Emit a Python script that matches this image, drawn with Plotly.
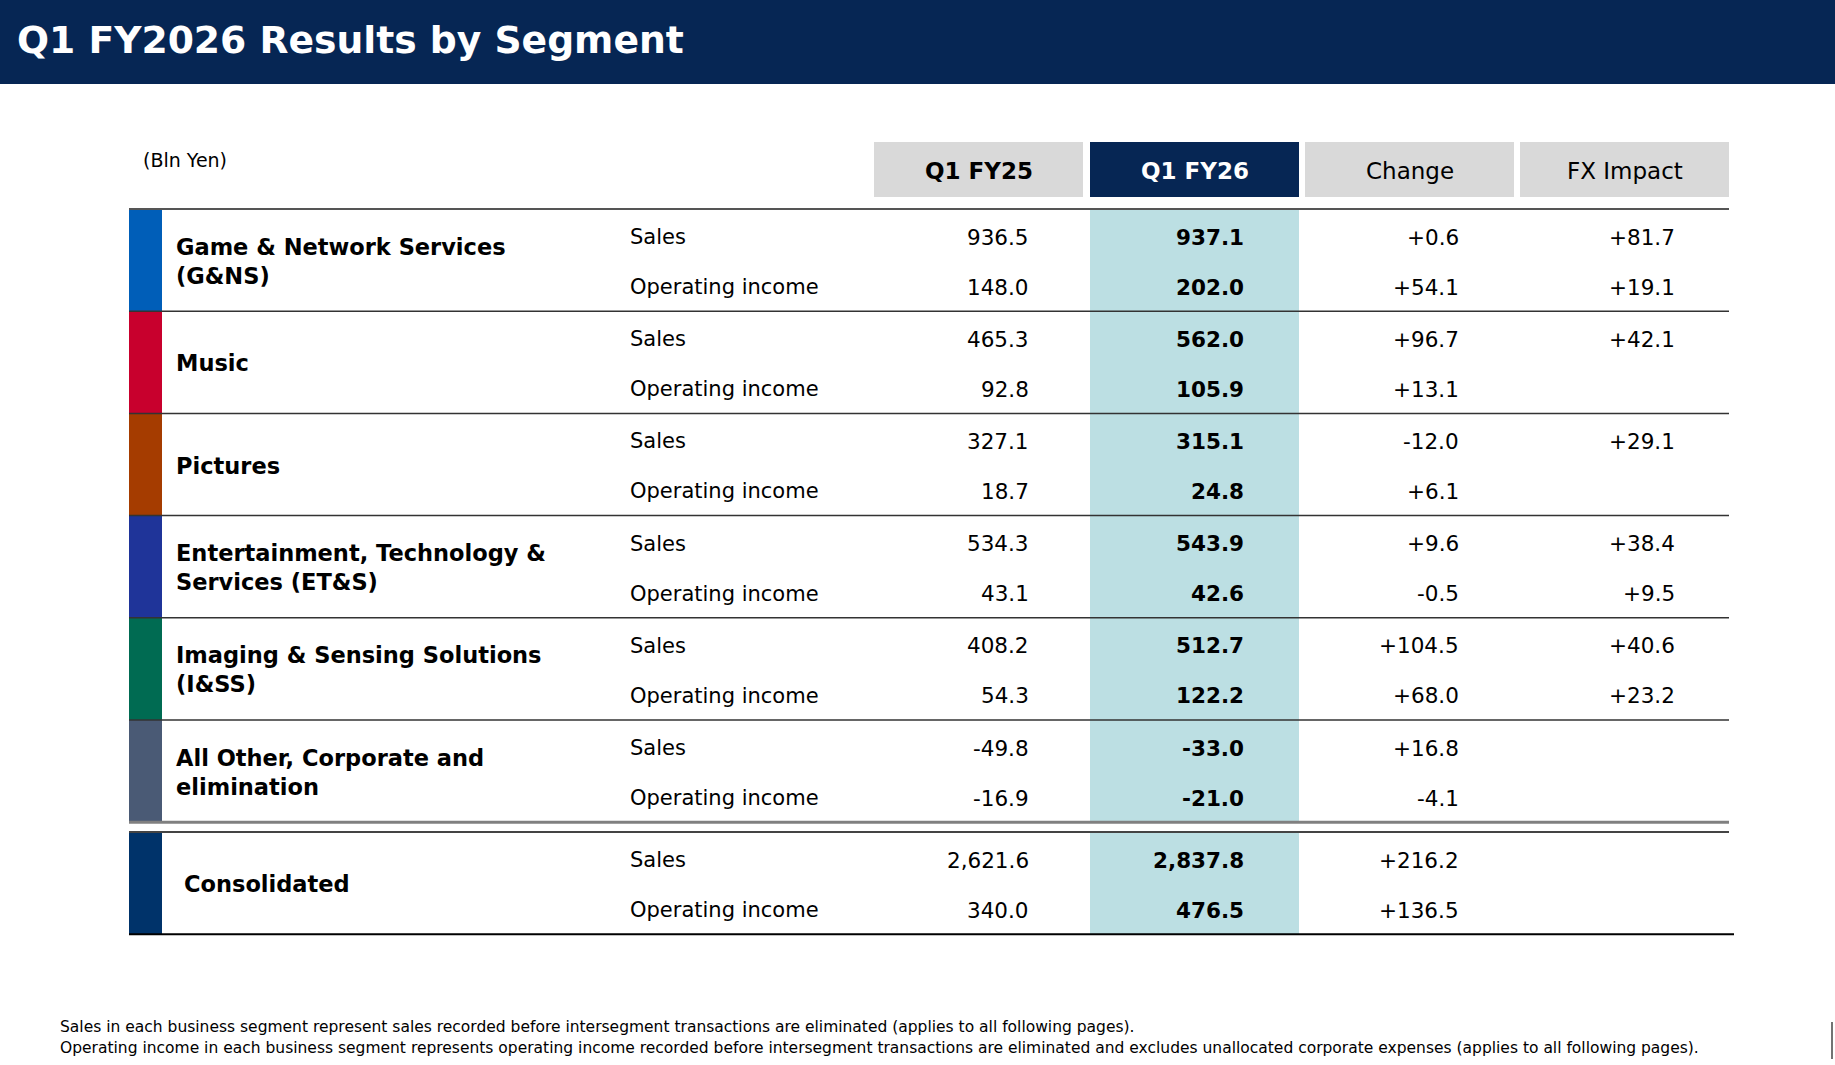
import plotly.graph_objects as go

# data (Bln Yen)
segments = ["Game & Network Services<br>(G&NS)", "Music", "Pictures",
            "Entertainment, Technology &<br>Services (ET&S)",
            "Imaging & Sensing Solutions<br>(I&SS)",
            "All Other, Corporate and<br>elimination", "Consolidated"]
seg_colors = ["#005EB8", "#C8002D", "#A53C00", "#1F3499", "#006B52", "#4A5A75", "#00336A"]
metrics = ["Sales", "Operating income"]
columns = ["Q1 FY25", "Q1 FY26", "Change", "FX Impact"]

fy25_sales = [936.5, 465.3, 327.1, 534.3, 408.2, -49.8, 2621.6]
fy25_oi = [148.0, 92.8, 18.7, 43.1, 54.3, -16.9, 340.0]
fy26_sales = [937.1, 562.0, 315.1, 543.9, 512.7, -33.0, 2837.8]
fy26_oi = [202.0, 105.9, 24.8, 42.6, 122.2, -21.0, 476.5]
chg_sales = [0.6, 96.7, -12.0, 9.6, 104.5, 16.8, 216.2]
chg_oi = [54.1, 13.1, 6.1, -0.5, 68.0, -4.1, 136.5]
fx_sales = [81.7, 42.1, 29.1, 38.4, 40.6, None, None]
fx_oi = [19.1, None, None, 9.5, 23.2, None, None]

notes = [
    "Sales in each business segment represent sales recorded before intersegment transactions are eliminated (applies to all following pages).",
    "Operating income in each business segment represents operating income recorded before intersegment transactions are eliminated and excludes unallocated corporate expenses (applies to all following pages).",
]

W, H = 1835, 1065
FONT = "DejaVu Sans"
NAVY = "#062654"
GRAY = "#D9D9D9"
BLUE_COL = "#BCDFE3"

# layout geometry (pixels)
left, right = 129, 1729
bar_w = 33
top0 = 209
blk_h = 102.2
cons_top = 832
col_left = [874, 1090, 1305, 1520]
col_w = 209
val_right = [1031, 1246, 1461, 1677]

fig = go.Figure()
shapes = []
ann = []


def rect(x0, y0, x1, y1, color):
    shapes.append(dict(type="rect", xref="x", yref="y", x0=x0, y0=y0, x1=x1, y1=y1,
                       fillcolor=color, line=dict(width=0), layer="below"))


def hline(y, x0, x1, color, w):
    shapes.append(dict(type="line", xref="x", yref="y", x0=x0, y0=y, x1=x1, y1=y,
                       line=dict(color=color, width=w)))


def text(x, y, s, size, color="#000", bold=False, xanchor="left"):
    ann.append(dict(x=x, y=y, xref="x", yref="y", text=("<b>%s</b>" % s) if bold else s,
                    showarrow=False, xanchor=xanchor, yanchor="middle", align="left",
                    font=dict(family=FONT, size=size, color=color)))


def fmt(v, sign=False):
    if v is None:
        return ""
    return ("{:+,.1f}" if sign else "{:,.1f}").format(v)


# title band
rect(0, 0, W, 84, NAVY)
text(15, 40, "Q1 FY2026 Results by Segment", 37.7, "white", True)
text(141, 160, "(Bln Yen)", 19)

# column headers
hdr_fill = [GRAY, NAVY, GRAY, GRAY]
hdr_color = ["#000", "white", "#000", "#000"]
hdr_bold = [True, True, False, False]
for j, c in enumerate(columns):
    rect(col_left[j], 142, col_left[j] + col_w, 197, hdr_fill[j])
    text(col_left[j] + col_w / 2, 171, c, 23, hdr_color[j], hdr_bold[j], "center")

# highlighted Q1 FY26 column
n_seg = len(segments) - 1
rect(col_left[1], top0, col_left[1] + col_w, top0 + n_seg * blk_h, BLUE_COL)
rect(col_left[1], cons_top, col_left[1] + col_w, cons_top + blk_h, BLUE_COL)

for i, name in enumerate(segments):
    cons = i == n_seg
    y0 = cons_top if cons else top0 + i * blk_h
    y1 = y0 + blk_h
    rect(left, y0, left + bar_w, y1, seg_colors[i])
    text(left + bar_w + (20 if cons else 12), (y0 + y1) / 2 + 1, name, 22.5, bold=True)
    rows = [(fy25_sales[i], fy26_sales[i], chg_sales[i], fx_sales[i]),
            (fy25_oi[i], fy26_oi[i], chg_oi[i], fx_oi[i])]
    for k, m in enumerate(metrics):
        ym = y0 + (28 if k == 0 else 78)
        text(628, ym, m, 21)
        vals = rows[k]
        text(val_right[0], ym, fmt(vals[0]), 21.5, xanchor="right")
        text(val_right[1], ym, fmt(vals[1]), 21.5, bold=True, xanchor="right")
        text(val_right[2], ym, fmt(vals[2], True), 21.5, xanchor="right")
        text(val_right[3], ym, fmt(vals[3], True), 21.5, xanchor="right")
    if not cons:
        if i == 0:
            hline(y0, left, right, "#555555", 2)
        if i == n_seg - 1:
            hline(y1, left, right, "#808080", 3)
        else:
            hline(y1, left, right, "#333333", 1.5)
    else:
        hline(y0, left, right, "#444444", 2)
        hline(y1, left, right + 5, "#000000", 2)

# footnotes
for k, n in enumerate(notes):
    text(58, 1027 + k * 21, n, 15.5)

shapes.append(dict(type="line", xref="x", yref="y", x0=1832, x1=1832, y0=1022, y1=1059,
                   line=dict(color="#444", width=1.5)))

fig.update_layout(
    width=W, height=H,
    margin=dict(l=0, r=0, t=0, b=0),
    paper_bgcolor="white", plot_bgcolor="white",
    xaxis=dict(range=[0, W], visible=False, fixedrange=True),
    yaxis=dict(range=[H, 0], visible=False, fixedrange=True),
    shapes=shapes, annotations=ann, showlegend=False,
)

fig.write_html("out.html", config={"displayModeBar": False},
               post_script="document.body.style.margin='0';document.body.style.overflow='hidden';")
